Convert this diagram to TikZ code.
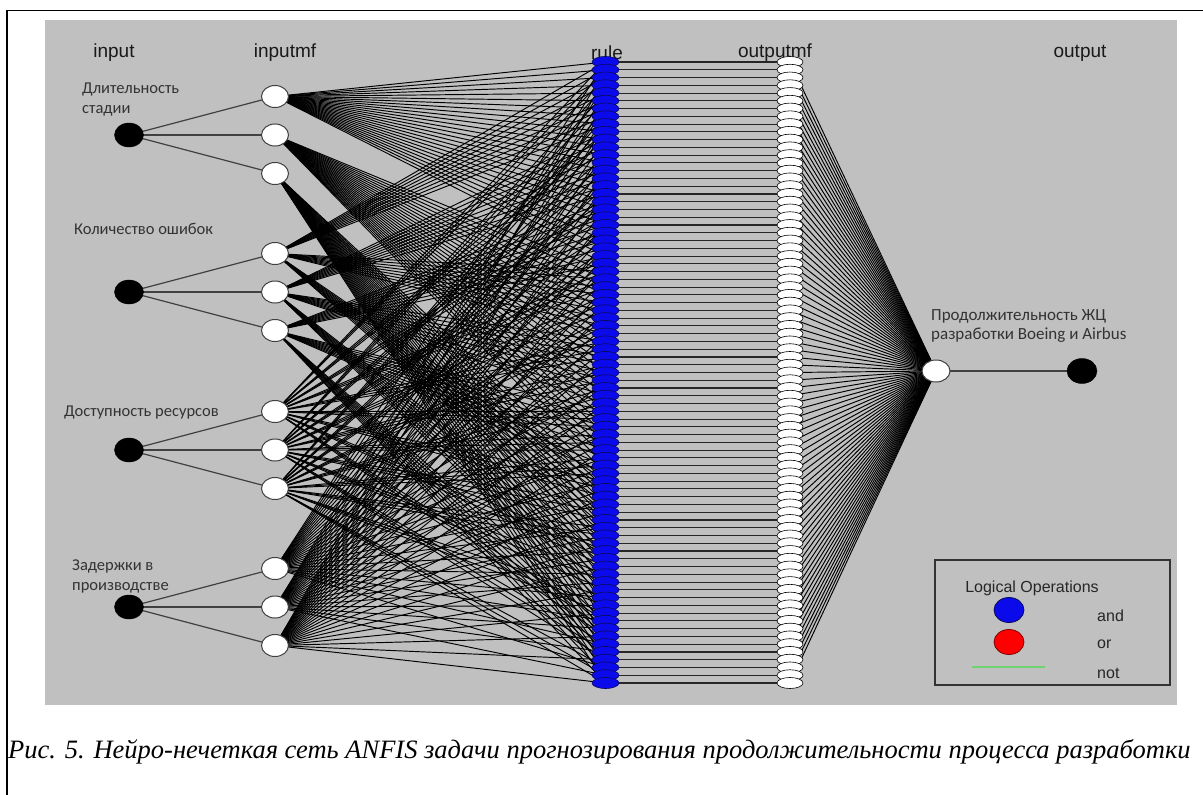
\documentclass[tikz,border=0pt]{standalone}
\usepackage{fontspec}
\setmainfont{Liberation Serif}
\newfontfamily\arialf{Liberation Sans}
\newfontfamily\calf{Carlito}
\usetikzlibrary{shapes.geometric}
\pgfdeclarelayer{back}
\pgfdeclarelayer{wires}
\pgfsetlayers{back,wires,main}
\definecolor{bggray}{RGB}{192,192,192}
\definecolor{ruleblue}{RGB}{10,10,235}
\definecolor{rulenavy}{RGB}{10,10,90}
\definecolor{lgreen}{RGB}{110,210,110}
\begin{document}
\begin{tikzpicture}[x=1pt,y=-1pt,
  innode/.style={ellipse,fill=black,draw=black,minimum width=29pt,minimum height=24pt,inner sep=0pt},
  mfnode/.style={ellipse,fill=white,draw=black!75,line width=1pt,minimum width=27pt,minimum height=22pt,inner sep=0pt},
  rulenode/.style={ellipse,fill=ruleblue,draw=rulenavy,line width=0.6pt,minimum width=27pt,minimum height=11pt,inner sep=0pt},
  omfnode/.style={ellipse,fill=white,draw=black,line width=0.6pt,minimum width=26pt,minimum height=11pt,inner sep=0pt},
  outmfnode/.style={ellipse,fill=white,draw=black!75,line width=1pt,minimum width=28pt,minimum height=22pt,inner sep=0pt},
  outnode/.style={ellipse,fill=black,draw=black,minimum width=30pt,minimum height=25pt,inner sep=0pt},
  wire/.style={draw=black,line width=0.95pt},
  inwire/.style={draw=black!75,line width=1.2pt},
  hwire/.style={draw=black!85,line width=1.1pt},
  lbl/.style={font=\arialf\fontsize{19}{19}\selectfont,text=black!90,inner sep=0pt},
  clbl/.style={font=\calf\fontsize{16.5}{20}\selectfont,text=black!80,inner sep=0pt,align=left},
  leglbl/.style={font=\arialf\fontsize{16}{16}\selectfont,text=black!85,inner sep=0pt}
]
\useasboundingbox (0,0) rectangle (1203,795);
\begin{pgfonlayer}{back}
  \fill[white] (0,0) rectangle (1203,795);
  \fill[bggray] (45,20) rectangle (1177,705);
  \draw[line width=1.2pt] (1203,10.5) -- (7,10.5) -- (7,795);
\end{pgfonlayer}

% column titles
\node[lbl] (t-in) at (114,53) {input};
\node[lbl] (t-inmf) at (285,53) {inputmf};
\node[lbl] (t-rule) at (607,53) {rule};
\node[lbl] (t-omf) at (775,53) {outputmf};
\node[lbl] (t-out) at (1080,53) {output};

% input and input mf nodes
\foreach \i/\yc in {1/135,2/292,3/450,4/607} {
  \node[innode] (in-\i) at (129,\yc) {};
  \foreach \j in {0,1,2} {
    \pgfmathsetmacro\ym{\yc+(\j-1)*38.5}
    \node[mfnode] (mf-\i-\j) at (275,\ym) {};
  }
}

% rules and output mfs
\foreach \k in {0,...,80} {
  \pgfmathsetmacro\yy{62+7.7625*\k}
  \node[rulenode] (r-\k) at (605.5,\yy) {};
  \node[omfnode] (om-\k) at (790,\yy) {};
}

\node[outmfnode] (omf) at (936,371) {};
\node[outnode] (out) at (1082,371) {};

\begin{pgfonlayer}{wires}
  \foreach \i in {1,2,3,4} {
    \foreach \j in {0,1,2} {
      \draw[inwire] (in-\i.center) -- (mf-\i-\j.center);
    }
  }
  \foreach \k in {0,...,80} {
    \pgfmathtruncatemacro\da{\k/27}
    \pgfmathtruncatemacro\db{mod(\k,27)/9}
    \pgfmathtruncatemacro\dc{mod(\k,9)/3}
    \pgfmathtruncatemacro\dd{mod(\k,3)}
    \draw[wire] (mf-1-\da.center) -- (r-\k.center);
    \draw[wire] (mf-2-\db.center) -- (r-\k.center);
    \draw[wire] (mf-3-\dc.center) -- (r-\k.center);
    \draw[wire] (mf-4-\dd.center) -- (r-\k.center);
    \draw[hwire] (r-\k.center) -- (om-\k.center);
    \draw[wire] (om-\k.center) -- (omf.center);
  }
  \draw[inwire] (omf.center) -- (out.center);
\end{pgfonlayer}

% variable labels
\node[clbl,anchor=west] (l-1) at (82,100) {Длительность\\стадии};
\node[clbl,anchor=west] (l-2) at (74,229) {Количество ошибок};
\node[clbl,anchor=west] (l-3) at (64,413) {Доступность ресурсов};
\node[clbl,anchor=west] (l-4) at (72,577) {Задержки в\\производстве};
\node[clbl,anchor=west,font=\calf\fontsize{17}{19}\selectfont] (l-out) at (931,326) {Продолжительность ЖЦ\\разработки Boeing и Airbus};

% legend
\node[draw=black!80,line width=1.2pt,minimum width=235pt,minimum height=125pt,inner sep=0pt] (leg) at (1052.5,622.5) {};
\node[leglbl] (leg-t) at (1032,588) {Logical Operations};
\node[ellipse,fill=ruleblue,draw=rulenavy,line width=0.8pt,minimum width=30pt,minimum height=25pt,inner sep=0pt] (leg-and) at (1009,610) {};
\node[ellipse,fill=red,draw=red!50!black,line width=0.8pt,minimum width=30pt,minimum height=25pt,inner sep=0pt] (leg-or) at (1009,642) {};
\coordinate (leg-n1) at (972,667);
\coordinate (leg-n2) at (1045,667);
\draw[lgreen,line width=1.6pt] (leg-n1) -- (leg-n2);
\node[leglbl,anchor=west] (leg-a) at (1097,616) {and};
\node[leglbl,anchor=west] (leg-o) at (1097,644) {or};
\node[leglbl,anchor=west] (leg-no) at (1097,673) {not};

% caption
\node[anchor=west,inner sep=0pt,font=\itshape\fontsize{26.5}{26.5}\selectfont] (cap) at (8,752) {Рис. 5. Нейро-нечеткая сеть ANFIS задачи прогнозирования продолжительности процесса разработки};
\end{tikzpicture}
\end{document}
